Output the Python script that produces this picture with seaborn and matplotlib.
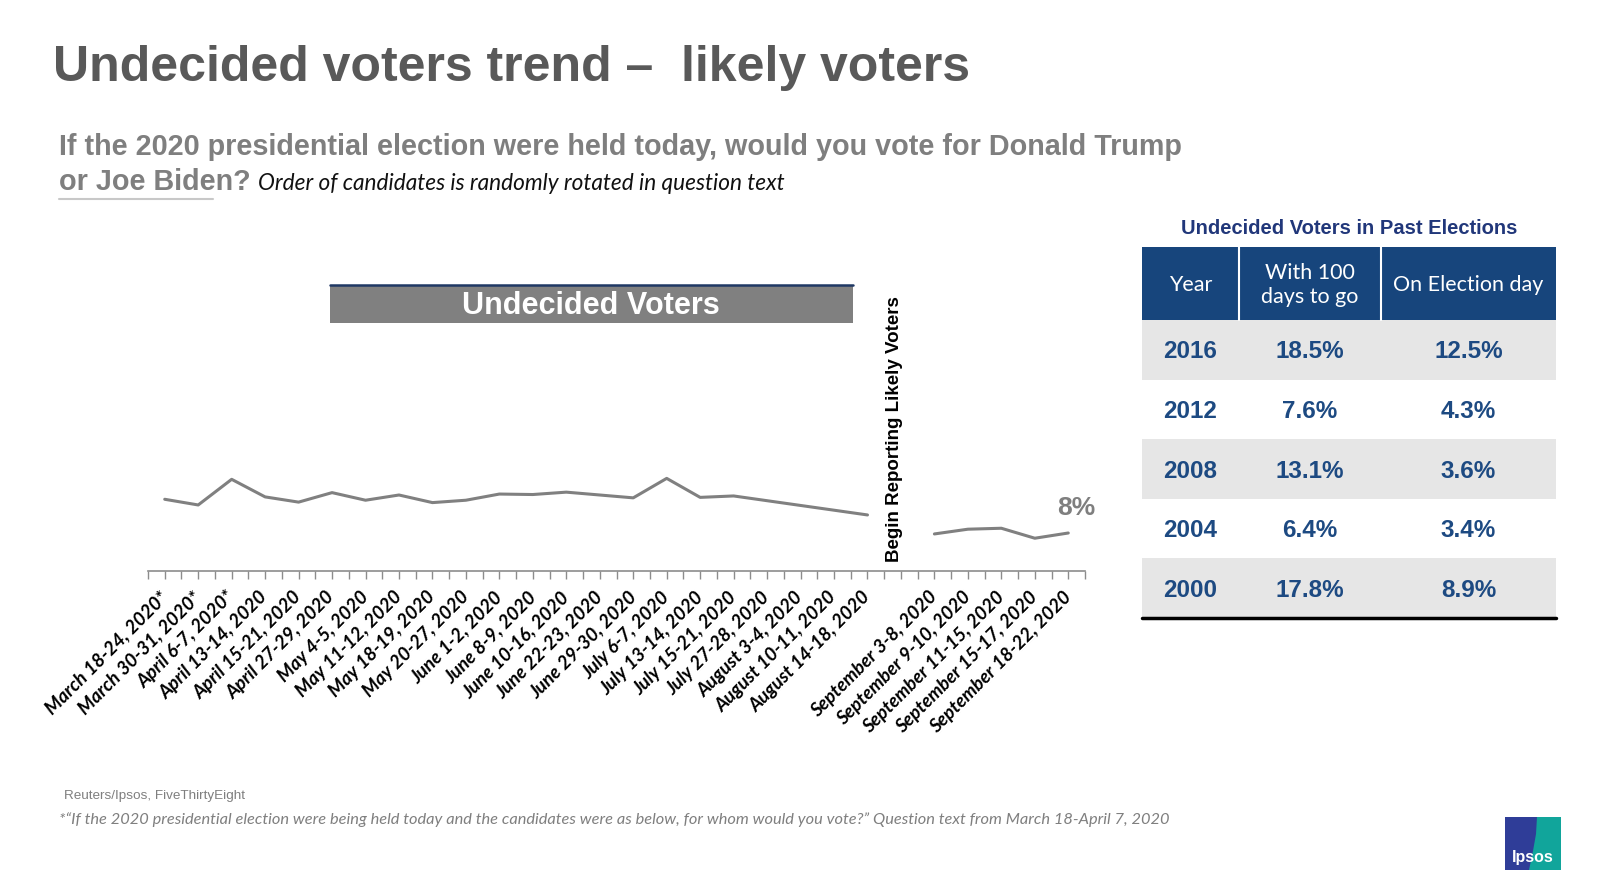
import matplotlib
matplotlib.use("Agg")
import matplotlib.pyplot as plt
import seaborn as sns
import pandas as pd
import numpy as np
from matplotlib.patches import Rectangle, Polygon

# registered voters polls (left part) and likely voters polls (right part)
rv_labels = ["March 18-24, 2020*", "March 30-31, 2020*", "April 6-7, 2020*",
             "April 13-14, 2020", "April 15-21, 2020", "April 27-29, 2020",
             "May 4-5, 2020", "May 11-12, 2020", "May 18-19, 2020",
             "May 20-27, 2020", "June 1-2, 2020", "June 8-9, 2020",
             "June 10-16, 2020", "June 22-23, 2020", "June 29-30, 2020",
             "July 6-7, 2020", "July 13-14, 2020", "July 15-21, 2020",
             "July 27-28, 2020", "August 3-4, 2020", "August 10-11, 2020",
             "August 14-18, 2020"]
rv_undecided = [15.1, 13.9, 19.3, 15.6, 14.5, 16.5, 14.9, 16.0, 14.4, 14.9,
                16.2, 16.1, 16.6, 16.0, 15.4, 19.5, 15.5, 15.8, 14.8, 13.8,
                12.8, 11.8]
lv_labels = ["September 3-8, 2020", "September 9-10, 2020",
             "September 11-15, 2020", "September 15-17, 2020",
             "September 18-22, 2020"]
lv_undecided = [7.8, 8.8, 9.0, 6.9, 8.0]

# past elections table
table_header = ["Year", "With 100\ndays to go", "On Election day"]
years = ["2016", "2012", "2008", "2004", "2000"]
with_100_days = ["18.5%", "7.6%", "13.1%", "6.4%", "17.8%"]
election_day = ["12.5%", "4.3%", "3.6%", "3.4%", "8.9%"]

W, H = 1612, 895
GRAY_TXT = "#7f7f7f"
NAVY = "#17457c"
ARIAL = ["Liberation Sans", "DejaVu Sans"]
CALIBRI = ["Lato", "DejaVu Sans"]

sns.set_theme(style="white")
plt.rcParams["font.family"] = ARIAL

# one gap slot between the two poll series
labels = rv_labels + [""] + lv_labels
df = pd.DataFrame({
    "slot": list(range(len(rv_labels))) + list(range(len(rv_labels) + 1, len(labels))),
    "undecided": rv_undecided + lv_undecided,
    "segment": ["rv"] * len(rv_labels) + ["lv"] * len(lv_labels),
})

fig = plt.figure(figsize=(W / 100, H / 100), dpi=100)
fig.patch.set_facecolor("white")

# pixel-space layer for slide decorations
deco = fig.add_axes([0, 0, 1, 1])
deco.set_xlim(0, W)
deco.set_ylim(H, 0)
deco.axis("off")

ax = fig.add_axes([148 / W, (H - 572) / H, (1085 - 148) / W, (572 - 280) / H])
ax.patch.set_alpha(0)
sns.lineplot(data=df, x="slot", y="undecided", units="segment", estimator=None,
             color="#808080", linewidth=2.2, ax=ax, legend=False)
for ln in ax.lines:
    ln.set_solid_joinstyle("round")
ax.set_xlim(-0.5, len(labels) - 0.5)
ax.set_ylim(0, 292 / 4.75)
ax.set_xlabel("")
ax.set_ylabel("")
ax.set_yticks([])
for s in ["top", "left", "right"]:
    ax.spines[s].set_visible(False)
ax.spines["bottom"].set_color("#8c8c8c")
ax.spines["bottom"].set_linewidth(1.2)
ax.set_xticks(range(len(labels)))
ax.set_xticks(np.arange(-0.5, len(labels), 1), minor=True)
ax.set_xticklabels(labels, rotation=45, ha="right", va="center",
                   rotation_mode="anchor", fontsize=13.5, fontweight="bold",
                   fontstyle="italic", family=CALIBRI, color="black")
ax.tick_params(axis="x", which="both", bottom=True, length=6, width=1,
               color="#8c8c8c", direction="out")
ax.tick_params(axis="x", which="major", pad=10)

last_x = df["slot"].iloc[-1]
last_y = df["undecided"].iloc[-1]
ax.annotate(f"{last_y:.0f}%", xy=(last_x, last_y), xytext=(6, 19),
            textcoords="offset points", ha="center", va="center",
            fontsize=19, fontweight="bold", color=GRAY_TXT)

ax.text(len(rv_labels) - 0.2, 2.0, "Begin Reporting Likely Voters", rotation=90,
        ha="center", va="bottom", fontsize=13.5, fontweight="bold", color="black")

# chart title box
deco.add_patch(Rectangle((330, 286), 523, 38, facecolor="#808080", edgecolor="none"))
deco.plot([330, 853], [286, 286], color="#1f3864", lw=1.8)
deco.text(591, 306, "Undecided Voters", ha="center", va="center", fontsize=22,
          fontweight="bold", color="white")

# slide titles
deco.text(53, 68, "Undecided voters trend \u2013  likely voters", ha="left", va="center",
          fontsize=36, fontweight="bold", color="#595959")
deco.text(59, 147, "If the 2020 presidential election were held today, would you vote for Donald Trump",
          ha="left", va="center", fontsize=20.7, fontweight="bold", color=GRAY_TXT)
deco.text(59, 182, "or Joe Biden?", ha="left", va="center", fontsize=20.7,
          fontweight="bold", color=GRAY_TXT)
deco.text(258, 183, "Order of candidates is randomly rotated in question text",
          ha="left", va="center", fontsize=16.3, fontstyle="italic",
          family=CALIBRI, color="#111111")
deco.plot([59, 213], [200, 200], color="#c8c8c8", lw=1.5)

# past elections table
col_edges = [1142, 1239, 1381, 1556]
col_mid = [(a + b) / 2 for a, b in zip(col_edges[:-1], col_edges[1:])]
head_top, head_bot, row_h = 248, 321, 59.6
deco.text(1349, 228, "Undecided Voters in Past Elections", ha="center", va="center",
          fontsize=14.5, fontweight="bold", color="#21377a")
deco.add_patch(Rectangle((col_edges[0], head_top), col_edges[-1] - col_edges[0],
                         head_bot - head_top, facecolor=NAVY, edgecolor="none"))
for xe in col_edges[1:-1]:
    deco.plot([xe, xe], [head_top, head_bot], color="white", lw=1.5)
for cx, h in zip(col_mid, table_header):
    deco.text(cx, (head_top + head_bot) / 2, h, ha="center", va="center",
              fontsize=15.5, color="white", family=CALIBRI, linespacing=1.25)
for i, row in enumerate(zip(years, with_100_days, election_day)):
    y0 = head_bot + i * row_h
    if i % 2 == 0:
        deco.add_patch(Rectangle((col_edges[0], y0), col_edges[-1] - col_edges[0], row_h,
                                 facecolor="#e6e6e6", edgecolor="none"))
    for cx, val in zip(col_mid, row):
        deco.text(cx, y0 + row_h / 2 + 1, val, ha="center", va="center", fontsize=17.5,
                  fontweight="bold", color="#1d4a82")
bottom_y = head_bot + len(years) * row_h
deco.plot([col_edges[0], col_edges[-1]], [bottom_y, bottom_y], color="black", lw=2.5)

# footnotes
deco.text(64, 796, "Reuters/Ipsos, FiveThirtyEight", ha="left", va="center",
          fontsize=9.7, color=GRAY_TXT)
deco.text(59, 820, "*\u201cIf the 2020 presidential election were being held today and the "
          "candidates were as below, for whom would you vote?\u201d Question text from "
          "March 18-April 7, 2020", ha="left", va="center", fontsize=11.8,
          fontstyle="italic", family=CALIBRI, color=GRAY_TXT)

# Ipsos logo
deco.add_patch(Rectangle((1505, 818), 56, 53, facecolor="#11a59b", edgecolor="none"))
deco.add_patch(Polygon([(1505, 818), (1537, 818), (1536, 835), (1533, 852), (1529, 871),
                        (1505, 871)], closed=True, facecolor="#2f3d98", edgecolor="none"))
deco.text(1533, 858, "Ipsos", ha="center", va="center", fontsize=11.5, fontweight="bold",
          color="white")

fig.savefig("out.png", dpi=100)
